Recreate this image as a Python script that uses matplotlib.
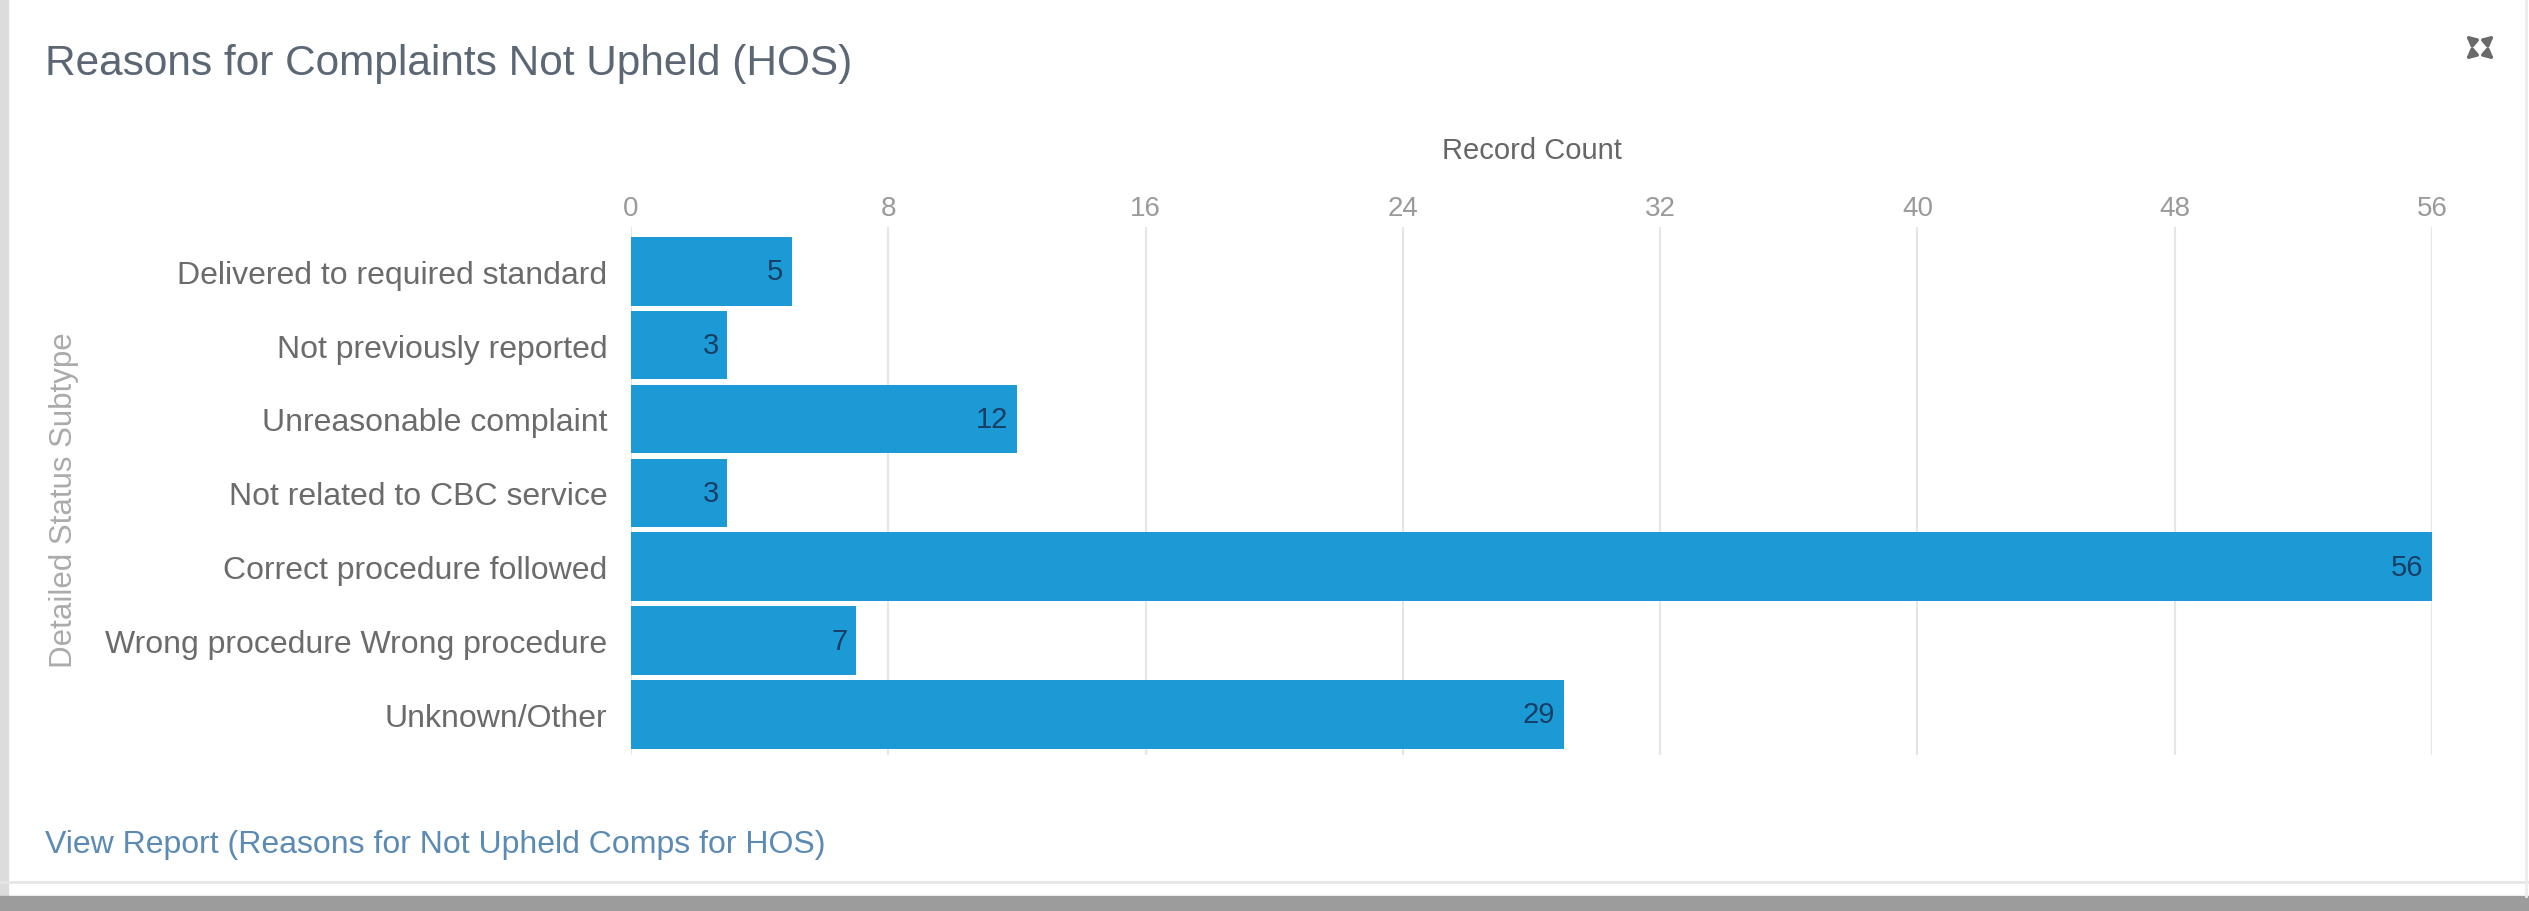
import matplotlib.pyplot as plt
from matplotlib.patches import Rectangle
from matplotlib.lines import Line2D

plt.rcParams['font.family'] = ['Liberation Sans', 'DejaVu Sans']

# record counts per detailed status subtype
categories = [
    'Delivered to required standard',
    'Not previously reported',
    'Unreasonable complaint',
    'Not related to CBC service',
    'Correct procedure followed',
    'Wrong procedure Wrong procedure',
    'Unknown/Other',
]
counts = [5, 3, 12, 3, 56, 7, 29]
x_ticks = [0, 8, 16, 24, 32, 40, 48, 56]

W, H = 2529, 912
fig = plt.figure(figsize=(W / 100, H / 100), dpi=100)
fig.patch.set_facecolor('white')

def fx(px):
    return px / W

def fy(py):
    return 1 - py / H

# panel frame
fig.add_artist(Rectangle((0, 0), fx(8), 1, transform=fig.transFigure,
                         color='#dcdcdc', zorder=0))
fig.add_artist(Rectangle((0, 0), 1, fy(897), transform=fig.transFigure,
                         color='#9c9c9c', zorder=1))
fig.add_artist(Line2D([0, 1], [fy(883), fy(883)], transform=fig.transFigure,
                      color='#e6e6e6', lw=2))
fig.add_artist(Line2D([fx(2526), fx(2526)], [fy(897), 1], transform=fig.transFigure,
                      color='#ececec', lw=2))

# bar chart
left, right, top, bottom = 631, 2432, 228, 756
ax = fig.add_axes([fx(left), fy(bottom), fx(right - left), (bottom - top) / H])
ypos = list(range(len(categories)))
ax.barh(ypos, counts, height=0.93, color='#1b9ad6', zorder=2)
ax.set_xlim(0, 56)
ax.set_ylim(6.55, -0.6)

ax.set_yticks(ypos)
ax.set_yticklabels(categories, fontsize=23, color='#6b6b6b')
ax.xaxis.tick_top()
ax.set_xticks(x_ticks)
ax.set_xticklabels([str(t) for t in x_ticks], fontsize=20, color='#9a9a9a')
ax.tick_params(axis='both', length=0)
ax.tick_params(axis='x', pad=4)
ax.tick_params(axis='y', pad=17)
ax.xaxis.set_label_position('top')
ax.set_xlabel('Record Count', fontsize=21, color='#666666', labelpad=27)
ax.grid(axis='x', color='#e6e6e6', lw=1.5, zorder=0)
for s in ax.spines.values():
    s.set_visible(False)

for y, v in zip(ypos, counts):
    ax.annotate(str(v), (v, y), xytext=(-6, 0), textcoords='offset points',
                ha='right', va='center', fontsize=21, color='#173f66', zorder=3)

fig.text(fx(64), fy(500), 'Detailed Status Subtype', rotation=90,
         ha='center', va='center', fontsize=22.5, color='#ababab')

# header and footer
fig.text(fx(45), fy(64), 'Reasons for Complaints Not Upheld (HOS)',
         ha='left', va='center', fontsize=30.5, color='#5c6776')
fig.text(fx(45), fy(845), 'View Report (Reasons for Not Upheld Comps for HOS)',
         ha='left', va='center', fontsize=23, color='#5b8ab4')

# expand icon
icon = fig.add_axes([fx(2462), fy(64), fx(36), 31 / H])
icon.set_xlim(0, 1)
icon.set_ylim(0, 1)
icon.axis('off')
for x0, y0, x1, y1 in [(0.38, 0.62, 0.05, 0.95), (0.62, 0.62, 0.95, 0.95),
                       (0.38, 0.38, 0.05, 0.05), (0.62, 0.38, 0.95, 0.05)]:
    icon.annotate('', (x1, y1), (x0, y0),
                  arrowprops=dict(arrowstyle='-|>', color='#6a6a6a', lw=2.5,
                                  mutation_scale=14))

fig.savefig('out.png', dpi=100)
